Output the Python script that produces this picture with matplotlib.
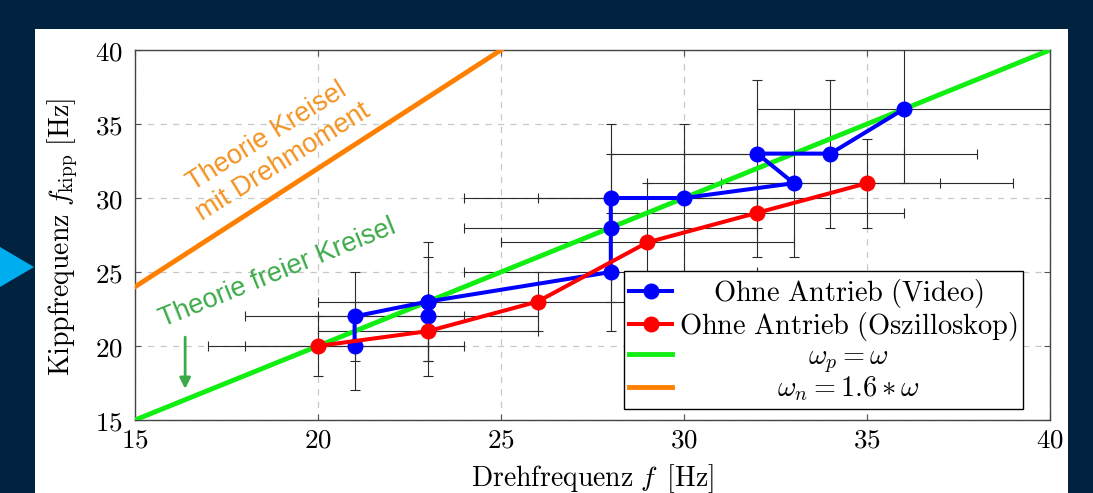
import matplotlib
matplotlib.use('Agg')
import matplotlib.pyplot as plt
from matplotlib.patches import Rectangle, Polygon
from matplotlib.ticker import FuncFormatter

plt.rcParams['mathtext.fontset'] = 'cm'
plt.rcParams['font.family'] = 'DejaVu Serif'

# ---------------- data ----------------
video_f = [21, 21, 23, 23, 28, 28, 28, 30, 33, 32, 34, 36]
video_k = [20, 22, 22, 23, 25, 28, 30, 30, 31, 33, 33, 36]
video_ferr = [3, 3, 3, 3, 4, 4, 4, 4, 4, 4, 4, 4]
video_kerr = [3, 3, 4, 4, 4, 5, 5, 5, 5, 5, 5, 5]
video_order = [0, 1, 3, 2, 3, 4, 5, 6, 7, 8, 9, 10, 11]

osc_f = [20, 23, 26, 29, 32, 35]
osc_k = [20, 21, 23, 27, 29, 31]
osc_ferr = [3, 3, 3, 4, 4, 4]
osc_kerr = [2, 2, 2, 4, 3, 3]

free_f = [15, 40]
free_k = [15, 40]
torque_f = [15, 25]
torque_k = [24, 40]

xticks = [15, 20, 25, 30, 35, 40]
yticks = [15, 20, 25, 30, 35, 40]

labels = [r'$\mathrm{Ohne\ Antrieb\ (Video)}$',
          r'$\mathrm{Ohne\ Antrieb\ (Oszilloskop)}$',
          r'$\omega_p = \omega$',
          r'$\omega_n = 1.6 * \omega$']

# ---------------- figure ----------------
W, H = 1093, 493
fig = plt.figure(figsize=(W / 100, H / 100), dpi=100)
fig.patch.set_facecolor('#02233f')
fig.patches.append(Rectangle((35 / W, 0), (1068 - 35) / W, 1 - 29 / H,
                             transform=fig.transFigure, facecolor='white',
                             edgecolor='none', zorder=-5))
fig.patches.append(Polygon([(0, 1 - 247 / H), (34 / W, 1 - 267 / H), (0, 1 - 287 / H)],
                           closed=True, transform=fig.transFigure,
                           facecolor='#00aeef', edgecolor='none', zorder=-5))

ax = fig.add_axes([135 / W, 1 - 420 / H, (1050 - 135) / W, (420 - 50) / H])
ax.set_zorder(1)
ax.set_facecolor('white')

ecol = '#2b2b2b'
ax.errorbar(video_f, video_k, xerr=video_ferr, yerr=video_kerr, fmt='none',
            ecolor=ecol, elinewidth=0.8, capsize=3.6, capthick=0.8, zorder=2)
ax.errorbar(osc_f, osc_k, xerr=osc_ferr, yerr=osc_kerr, fmt='none',
            ecolor=ecol, elinewidth=0.8, capsize=3.6, capthick=0.8, zorder=2)

ax.plot([video_f[i] for i in video_order], [video_k[i] for i in video_order],
        color='#0000ff', lw=2.9, marker='o', ms=10.5, label=labels[0], zorder=4)
ax.plot(osc_f, osc_k, color='#ff0000', lw=2.9, marker='o', ms=10.5,
        label=labels[1], zorder=4.5)
ax.plot(free_f, free_k, color='#11ee11', lw=3.5, label=labels[2], zorder=3)
ax.plot(torque_f, torque_k, color='#ff8000', lw=3.5, label=labels[3], zorder=3)

ax.set_xlim(15, 40)
ax.set_ylim(15, 40)
ax.set_xticks(xticks)
ax.set_yticks(yticks)
fmt = FuncFormatter(lambda v, p: r'$%g$' % v)
ax.xaxis.set_major_formatter(fmt)
ax.yaxis.set_major_formatter(fmt)
ax.tick_params(direction='in', length=4, width=0.8, color='#555555',
               labelsize=19.5, top=True, right=True, pad=5)
ax.tick_params(axis='y', pad=9)
ax.grid(True, color='#c8c8c8', linestyle=(0, (5, 5)), linewidth=0.9, zorder=1)
ax.set_axisbelow(True)
for s in ax.spines.values():
    s.set_color('#444444')
    s.set_linewidth(1.0)

ax.set_xlabel(r'$\mathrm{Drehfrequenz}\ f\ \,[\mathrm{Hz}]$', fontsize=20)
ax.xaxis.set_label_coords(0.5, (420 - 462) / 370)
ax.set_ylabel(r'$\mathrm{Kippfrequenz}\ f_{\mathrm{kipp}}\ [\mathrm{Hz}]$', fontsize=20)
ax.yaxis.set_label_coords((80 - 135) / 915, (420 - 237) / 370)

# annotations
ax.text(18.83, 33.3, 'Theorie Kreisel\nmit Drehmoment', rotation=32,
        rotation_mode='anchor', ha='center', va='center', multialignment='center',
        color='#f39322', fontsize=19.5, family='Liberation Sans', zorder=6)
ax.text(18.9, 24.9, 'Theorie freier Kreisel', rotation=22, rotation_mode='anchor',
        ha='center', va='center', color='#3daa4a', fontsize=19.5,
        family='Liberation Sans', zorder=6)
ax.annotate('', xy=(16.37, 17.1), xytext=(16.37, 20.6),
            arrowprops=dict(arrowstyle='-|>', color='#3daa4a', lw=2,
                            mutation_scale=16, shrinkA=0, shrinkB=0))

leg = ax.legend(loc='lower right', bbox_to_anchor=((1023 - 135) / 915, (420 - 409) / 370),
                borderaxespad=0, fontsize=20.4, frameon=True, fancybox=False,
                framealpha=1, edgecolor='black', handlelength=1.5,
                handletextpad=0.25, labelspacing=0.0, borderpad=0.2)
leg.get_frame().set_linewidth(1.0)
leg.set_zorder(10)

# centre legend texts within their column
fig.canvas.draw()
r = fig.canvas.get_renderer()
ws = [t.get_window_extent(r).width for t in leg.get_texts()]
mw = max(ws)
for t, w in zip(leg.get_texts(), ws):
    t.set_x((mw - w) / 2)

fig.savefig('out.png', dpi=100, facecolor=fig.get_facecolor())
